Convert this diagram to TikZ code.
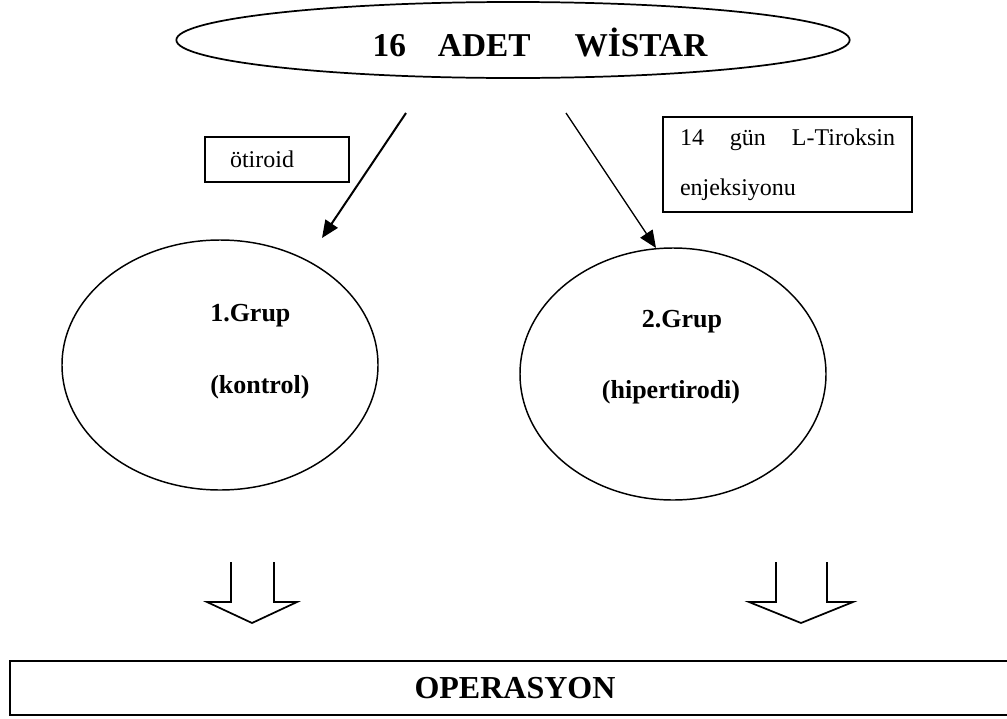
\documentclass[tikz,border=0pt]{standalone}
\usepackage{fontspec}
\setmainfont{Liberation Serif}
\usetikzlibrary{shapes.geometric,arrows.meta}

\begin{document}
\begin{tikzpicture}[x=0.75pt,y=-0.75pt,
    every node/.style={inner sep=0pt},
    oval/.style={draw, ellipse, line width=1.1pt},
    note/.style={draw, rectangle, line width=0.8pt, font=\fontsize{18}{37.5}\selectfont},
    grup/.style={font=\fontsize{19.5}{21}\selectfont\bfseries},
    link/.style={-{Triangle[length=13pt,width=11pt]}},
    hollow/.style={draw, line width=1.3pt, line join=miter}]
    \useasboundingbox (0,0) rectangle (1007,718);

    \node (wistar) at (513,40) [oval, line width=1.3pt, minimum width=505pt, minimum height=57pt]{};
    \node (title) at (540,42) {\fontsize{25}{27}\selectfont\bfseries 16\hspace{24pt}ADET\hspace{33pt}WİSTAR};

    \node (otiroid) at (277,159.5) [note, minimum height=33.75pt, text width=70.5pt, inner xsep=18.75pt, align=left]{ötiroid};
    \node (tiroksin) at (787.5,164.5) [note, minimum height=71.25pt, text width=161.25pt, inner xsep=12.75pt, align=left]
        {\makebox[161.25pt][l]{14\hfill gün\hfill L-Tiroksin}\\enjeksiyonu};

    \coordinate (s1) at (406,113);
    \coordinate (e1) at (322,238);
    \coordinate (s2) at (566,113);
    \coordinate (e2) at (656,248);
    \draw[link, line width=1.5pt] (s1) -- (e1);
    \draw[link, line width=1pt] (s2) -- (e2);

    \node (grup1) at (220,365) [oval, minimum width=237pt, minimum height=187.5pt]{};
    \node (g1a) at (210,316) [grup, anchor=west]{1.Grup};
    \node (g1b) at (210,387) [grup, anchor=west]{(kontrol)};

    \node (grup2) at (673,374) [oval, minimum width=229.5pt, minimum height=189pt]{};
    \node (g2a) at (682,322) [grup]{2.Grup};
    \node (g2b) at (671,392) [grup]{(hipertirodi)};

    \draw[hollow] (231,562) -- (231,602) -- (207,602) -- (252,623) -- (297,602) -- (274,602) -- (274,562);
    \draw[hollow] (776,562) -- (776,602) -- (749,602) -- (801,623) -- (853,602) -- (827,602) -- (827,562);

    \node (operasyon) at (515,688) [draw, rectangle, line width=1.8pt, minimum width=757.5pt, minimum height=40.5pt,
        font=\fontsize{24}{26}\selectfont\bfseries]{OPERASYON};
\end{tikzpicture}
\end{document}
